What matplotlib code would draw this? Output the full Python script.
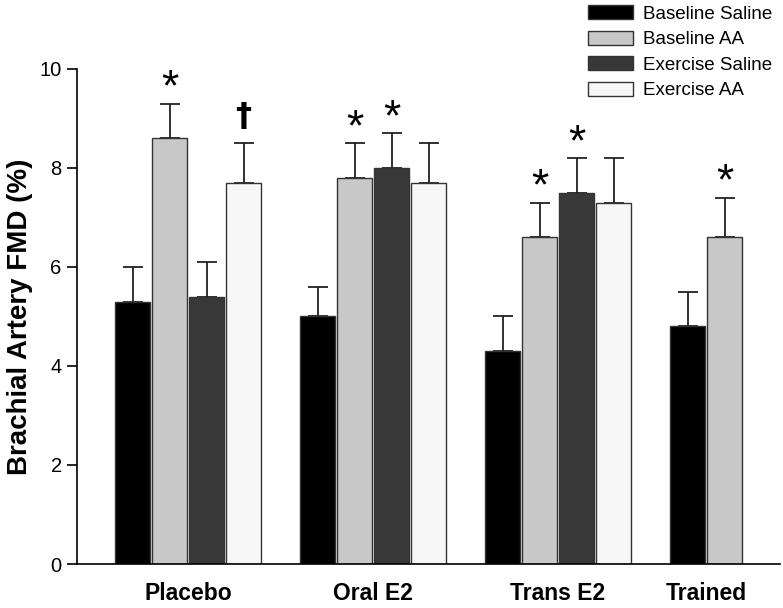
import numpy as np
import matplotlib
matplotlib.use("Agg")
import matplotlib.pyplot as plt

plt.rcParams['font.family'] = ['Liberation Sans', 'DejaVu Sans']

groups = ["Placebo", "Oral E2", "Trans E2", "Trained"]
series = ["Baseline Saline", "Baseline AA", "Exercise Saline", "Exercise AA"]
colors = ["#000000", "#c8c8c8", "#383838", "#f7f7f7"]

# mean FMD (%) per series, one value per group (None = not measured)
baseline_saline = [5.3, 5.0, 4.3, 4.8]
baseline_aa = [8.6, 7.8, 6.6, 6.6]
exercise_saline = [5.4, 8.0, 7.5, None]
exercise_aa = [7.7, 7.7, 7.3, None]

# upper error (SE)
err_baseline_saline = [0.7, 0.6, 0.7, 0.7]
err_baseline_aa = [0.7, 0.7, 0.7, 0.8]
err_exercise_saline = [0.7, 0.7, 0.7, None]
err_exercise_aa = [0.8, 0.8, 0.9, None]

# significance markers: (group, series, symbol)
marks = [(0, 1, "*"), (0, 3, "\u2020"), (1, 1, "*"), (1, 2, "*"),
         (2, 1, "*"), (2, 2, "*"), (3, 1, "*")]

values = [baseline_saline, baseline_aa, exercise_saline, exercise_aa]
errors = [err_baseline_saline, err_baseline_aa, err_exercise_saline, err_exercise_aa]

fig = plt.figure(figsize=(7.83, 6.08), dpi=100)
ax = fig.add_axes([77/783, 44/608, 703/783, 495/608])

slot = 5
width = 0.92
for j, (vals, errs) in enumerate(zip(values, errors)):
    xs, ys, es = [], [], []
    for i, (v, e) in enumerate(zip(vals, errs)):
        if v is None:
            continue
        xs.append(1.5 + slot * i + j)
        ys.append(v)
        es.append(e)
    ax.bar(xs, ys, width=width, color=colors[j], edgecolor="#333333",
           linewidth=1.0, label=series[j], zorder=2)
    ax.errorbar(xs, ys, yerr=[np.zeros(len(es)), es], fmt="none",
                ecolor="#222222", elinewidth=1.3, capsize=7, capthick=1.3, zorder=1)

for i, j, sym in marks:
    top = values[j][i] + errors[j][i]
    x = 1.5 + slot * i + j
    if sym == "*":
        ax.text(x, top - 0.12, sym, ha="center", va="bottom", fontsize=32)
    else:
        ax.text(x, top + 0.22, sym, ha="center", va="bottom", fontsize=23,
                fontweight="bold", family=["DejaVu Sans"])

centers = []
for i in range(len(groups)):
    n = sum(1 for vals in values if vals[i] is not None)
    centers.append(1.5 + slot * i + (n - 1) / 2)
ax.set_xticks(centers)
ax.set_xticklabels(groups, fontsize=16.5, fontweight="bold")
ax.tick_params(axis="x", length=0, pad=13)

ax.set_xlim(0, 19)
ax.set_ylim(0, 10)
ax.set_yticks([0, 2, 4, 6, 8, 10])
ax.tick_params(axis="y", direction="out", length=7, width=1.2, labelsize=14.5, pad=4)
ax.set_ylabel("Brachial Artery FMD (%)", fontsize=20, fontweight="bold", labelpad=5)

ax.spines["top"].set_visible(False)
ax.spines["right"].set_visible(False)
ax.spines["left"].set_linewidth(1.2)
ax.spines["bottom"].set_linewidth(1.2)

handles, labels = ax.get_legend_handles_labels()
fig.legend(handles, labels, loc="upper left",
           bbox_to_anchor=(588/783, 1 - 5/608), frameon=False,
           fontsize=13.5, handlelength=2.4, handleheight=0.8,
           handletextpad=0.55, labelspacing=0.42, borderpad=0, borderaxespad=0)

fig.savefig("out.png", dpi=100)
